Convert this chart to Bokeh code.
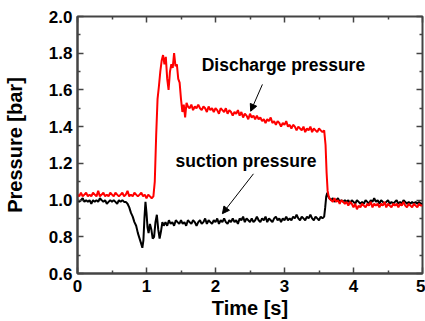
from bokeh.plotting import figure
from bokeh.models import (Range1d, LinearAxis, FixedTicker, PrintfTickFormatter,
                          Label, Arrow, NormalHead)
from bokeh.embed import file_html
from bokeh.resources import INLINE

# ---- data ----
t_discharge = [
    0.000, 0.025, 0.050, 0.075, 0.100, 0.125, 0.150, 0.175, 0.200, 0.225,
    0.250, 0.275, 0.300, 0.325, 0.350, 0.375, 0.400, 0.425, 0.450, 0.475,
    0.500, 0.525, 0.550, 0.575, 0.600, 0.625, 0.650, 0.675, 0.700, 0.725,
    0.750, 0.775, 0.800, 0.825, 0.850, 0.875, 0.900, 0.925, 0.950, 0.975,
    1.000, 1.025, 1.050, 1.075, 1.100,
    1.12, 1.14, 1.16, 1.18, 1.20, 1.22, 1.24, 1.26, 1.28, 1.30, 1.32, 1.34,
    1.36, 1.38, 1.40, 1.42, 1.44, 1.46, 1.48, 1.50, 1.52, 1.54, 1.56, 1.58,
    1.600, 1.625, 1.650, 1.675, 1.700, 1.725, 1.750, 1.775, 1.800, 1.825,
    1.850, 1.875, 1.900, 1.925, 1.950, 1.975, 2.000, 2.025, 2.050, 2.075,
    2.100, 2.125, 2.150, 2.175, 2.200, 2.225, 2.250, 2.275, 2.300, 2.325,
    2.350, 2.375, 2.400, 2.425, 2.450, 2.475, 2.500, 2.525, 2.550, 2.575,
    2.600, 2.625, 2.650, 2.675, 2.700, 2.725, 2.750, 2.775, 2.800, 2.825,
    2.850, 2.875, 2.900, 2.925, 2.950, 2.975, 3.000, 3.025, 3.050, 3.075,
    3.100, 3.125, 3.150, 3.175, 3.200, 3.225, 3.250, 3.275, 3.300, 3.325,
    3.350, 3.375, 3.400, 3.425, 3.450, 3.475, 3.500, 3.525, 3.550, 3.575,
    3.595, 3.610, 3.625, 3.640,
    3.650, 3.675, 3.700, 3.725, 3.750, 3.775, 3.800, 3.825, 3.850, 3.875,
    3.900, 3.925, 3.950, 3.975, 4.000, 4.025, 4.050, 4.075, 4.100, 4.125,
    4.150, 4.175, 4.200, 4.225, 4.250, 4.275, 4.300, 4.325, 4.350, 4.375,
    4.400, 4.425, 4.450, 4.475, 4.500, 4.525, 4.550, 4.575, 4.600, 4.625,
    4.650, 4.675, 4.700, 4.725, 4.750, 4.775, 4.800, 4.825, 4.850, 4.875,
    4.900, 4.925, 4.950, 4.975, 5.000]
p_discharge = [
    1.03, 1.02, 1.04, 1.02, 1.03, 1.04, 1.02, 1.03, 1.02, 1.04,
    1.03, 1.02, 1.05, 1.02, 1.03, 1.04, 1.02, 1.03, 1.02, 1.04,
    1.03, 1.02, 1.04, 1.03, 1.02, 1.03, 1.04, 1.02, 1.03, 1.05,
    1.02, 1.03, 1.02, 1.04, 1.03, 1.02, 1.03, 1.04, 1.02, 1.03,
    1.01, 1.03, 1.02, 1.01, 1.02,
    1.10, 1.35, 1.55, 1.62, 1.70, 1.76, 1.79, 1.74, 1.78, 1.66, 1.60, 1.70,
    1.74, 1.72, 1.80, 1.73, 1.74, 1.66, 1.64, 1.55, 1.48, 1.52, 1.45, 1.53,
    1.51, 1.50, 1.52, 1.49, 1.51, 1.50, 1.52, 1.50, 1.49, 1.51,
    1.50, 1.48, 1.51, 1.49, 1.50, 1.48, 1.50, 1.49, 1.47, 1.50,
    1.49, 1.48, 1.50, 1.47, 1.49, 1.48, 1.46, 1.48, 1.47, 1.49,
    1.46, 1.48, 1.45, 1.47, 1.46, 1.44, 1.47, 1.45, 1.46, 1.44,
    1.46, 1.44, 1.45, 1.43, 1.44, 1.42, 1.44, 1.43, 1.45, 1.42,
    1.43, 1.41, 1.43, 1.42, 1.40, 1.42, 1.41, 1.43, 1.40, 1.41,
    1.39, 1.41, 1.40, 1.38, 1.40, 1.39, 1.38, 1.40, 1.37, 1.39,
    1.38, 1.40, 1.37, 1.39, 1.38, 1.37, 1.39, 1.38, 1.37, 1.38,
    1.30, 1.15, 1.05, 1.02,
    1.01, 1.00, 0.99, 1.01, 0.99, 1.00, 0.98, 1.00, 0.99, 0.98,
    0.99, 0.97, 0.99, 0.98, 0.96, 0.98, 0.95, 0.97, 0.96, 0.98,
    0.97, 0.96, 0.98, 0.97, 0.99, 0.96, 0.98, 0.97, 0.98, 0.96,
    0.98, 0.97, 0.99, 0.96, 0.98, 0.97, 0.96, 0.98, 0.97, 0.98,
    0.96, 0.98, 0.97, 0.99, 0.97, 0.96, 0.98, 0.97, 0.96, 0.98,
    0.97, 0.96, 0.98, 0.97, 0.97]

t_suction = [
    0.000, 0.025, 0.050, 0.075, 0.100, 0.125, 0.150, 0.175, 0.200, 0.225,
    0.250, 0.275, 0.300, 0.325, 0.350, 0.375, 0.400, 0.425, 0.450, 0.475,
    0.500, 0.525, 0.550, 0.575, 0.600, 0.625, 0.650, 0.675, 0.700, 0.725,
    0.750, 0.775, 0.800, 0.825, 0.850, 0.875, 0.900, 0.925, 0.940, 0.955,
    0.970, 0.985, 1.000, 1.015, 1.030, 1.050, 1.070, 1.090, 1.110, 1.130,
    1.150, 1.170, 1.190, 1.210, 1.230, 1.250,
    1.275, 1.300, 1.325, 1.350, 1.375, 1.400, 1.425, 1.450, 1.475, 1.500,
    1.525, 1.550, 1.575, 1.600, 1.625, 1.650, 1.675, 1.700, 1.725, 1.750,
    1.775, 1.800, 1.825, 1.850, 1.875, 1.900, 1.925, 1.950, 1.975, 2.000,
    2.025, 2.050, 2.075, 2.100, 2.125, 2.150, 2.175, 2.200, 2.225, 2.250,
    2.275, 2.300, 2.325, 2.350, 2.375, 2.400, 2.425, 2.450, 2.475, 2.500,
    2.525, 2.550, 2.575, 2.600, 2.625, 2.650, 2.675, 2.700, 2.725, 2.750,
    2.775, 2.800, 2.825, 2.850, 2.875, 2.900, 2.925, 2.950, 2.975, 3.000,
    3.025, 3.050, 3.075, 3.100, 3.125, 3.150, 3.175, 3.200, 3.225, 3.250,
    3.275, 3.300, 3.325, 3.350, 3.375, 3.400, 3.425, 3.450, 3.475, 3.500,
    3.525, 3.550, 3.575,
    3.590, 3.605, 3.620, 3.635,
    3.650, 3.675, 3.700, 3.725, 3.750, 3.775, 3.800, 3.825, 3.850, 3.875,
    3.900, 3.925, 3.950, 3.975, 4.000, 4.025, 4.050, 4.075, 4.100, 4.125,
    4.150, 4.175, 4.200, 4.225, 4.250, 4.275, 4.300, 4.325, 4.350, 4.375,
    4.400, 4.425, 4.450, 4.475, 4.500, 4.525, 4.550, 4.575, 4.600, 4.625,
    4.650, 4.675, 4.700, 4.725, 4.750, 4.775, 4.800, 4.825, 4.850, 4.875,
    4.900, 4.925, 4.950, 4.975, 5.000]
p_suction = [
    1.00, 0.99, 1.00, 1.01, 0.99, 1.00, 0.99, 1.00, 0.98, 1.00,
    0.99, 1.00, 0.99, 1.01, 1.00, 0.99, 1.00, 0.98, 0.99, 1.00,
    0.99, 1.00, 0.99, 0.98, 1.00, 0.99, 1.00, 0.99, 0.99, 0.98,
    0.96, 0.93, 0.91, 0.88, 0.86, 0.82, 0.79, 0.76, 0.74, 0.78,
    0.90, 0.99, 0.93, 0.85, 0.82, 0.87, 0.84, 0.79, 0.80, 0.88,
    0.92, 0.84, 0.79, 0.83, 0.88, 0.86,
    0.88, 0.86, 0.89, 0.87, 0.88, 0.86, 0.89, 0.88, 0.87, 0.89,
    0.87, 0.88, 0.86, 0.89, 0.88, 0.87, 0.89, 0.88, 0.86, 0.88,
    0.89, 0.87, 0.88, 0.90, 0.87, 0.89, 0.88, 0.87, 0.89, 0.88,
    0.90, 0.87, 0.89, 0.88, 0.90, 0.88, 0.87, 0.89, 0.88, 0.90,
    0.88, 0.89, 0.87, 0.90, 0.89, 0.91, 0.88, 0.90, 0.89, 0.88,
    0.90, 0.88, 0.89, 0.91, 0.89, 0.88, 0.90, 0.89, 0.91, 0.88,
    0.90, 0.89, 0.88, 0.90, 0.91, 0.89, 0.90, 0.88, 0.90, 0.89,
    0.91, 0.89, 0.90, 0.89, 0.91, 0.90, 0.92, 0.90, 0.89, 0.91,
    0.90, 0.89, 0.91, 0.90, 0.92, 0.90, 0.89, 0.91, 0.90, 0.89,
    0.91, 0.90, 0.91,
    0.96, 1.02, 1.04, 1.02,
    1.01, 1.00, 1.01, 0.99, 1.00, 1.01, 0.99, 1.00, 0.99, 1.00,
    0.99, 1.00, 0.98, 1.00, 0.99, 0.98, 1.00, 0.99, 0.98, 0.99,
    0.98, 1.00, 0.99, 0.98, 1.00, 0.99, 1.01, 0.99, 1.00, 0.98,
    1.00, 0.99, 0.98, 0.99, 1.00, 0.98, 0.99, 0.98, 0.99, 1.00,
    0.98, 0.99, 0.98, 1.00, 0.99, 0.98, 0.99, 0.98, 0.99, 0.98,
    0.99, 0.98, 0.99, 0.98, 0.98]

x_major_ticks = [0, 1, 2, 3, 4, 5]
x_minor_ticks = [0.5, 1.5, 2.5, 3.5, 4.5]
y_major_ticks = [0.6, 0.8, 1.0, 1.2, 1.4, 1.6, 1.8, 2.0]
y_minor_ticks = [0.7, 0.9, 1.1, 1.3, 1.5, 1.7, 1.9]

x_label = "Time [s]"
y_label = "Pressure [bar]"
discharge_text = "Discharge pressure"
suction_text = "suction pressure"

FONT = "Liberation Sans"
AXIS_COLOR = "#444444"

p = figure(width=425, height=321, output_backend="svg", toolbar_location=None,
           x_range=Range1d(0, 5), y_range=Range1d(0.6, 2.0),
           min_border_left=77, min_border_right=3, min_border_top=16, min_border_bottom=47,
           x_axis_label=x_label, y_axis_label=y_label)
p.background_fill_color = "white"
p.border_fill_color = "white"
p.outline_line_color = AXIS_COLOR
p.outline_line_width = 2
p.grid.visible = False

p.xaxis.ticker = FixedTicker(ticks=x_major_ticks, minor_ticks=x_minor_ticks)
p.yaxis.ticker = FixedTicker(ticks=y_major_ticks, minor_ticks=y_minor_ticks)
p.yaxis.formatter = PrintfTickFormatter(format="%.1f")
p.xaxis.formatter = PrintfTickFormatter(format="%d")

for ax in (p.xaxis[0], p.yaxis[0]):
    ax.major_tick_in = 6
    ax.major_tick_out = 0
    ax.minor_tick_in = 3
    ax.minor_tick_out = 0
    ax.axis_line_color = AXIS_COLOR
    ax.axis_line_width = 2
    ax.major_tick_line_color = AXIS_COLOR
    ax.minor_tick_line_color = AXIS_COLOR
    ax.major_tick_line_width = 1.5
    ax.minor_tick_line_width = 1.5
    ax.major_label_text_font = FONT
    ax.major_label_text_font_style = "bold"
    ax.major_label_text_font_size = "17px"
    ax.major_label_text_color = "black"
    ax.axis_label_text_font = FONT
    ax.axis_label_text_font_style = "bold"
    ax.axis_label_text_font_size = "20px"
    ax.axis_label_text_color = "black"

p.yaxis.major_label_standoff = 5
p.yaxis.axis_label_standoff = 20
p.xaxis.major_label_standoff = 6
p.xaxis.axis_label_standoff = 2

# mirrored tick marks on the top and right edges (ticks only, no labels)
for side, ticks, length in (("above", x_major_ticks, 6), ("above", x_minor_ticks, 3),
                            ("right", y_major_ticks, 6), ("right", y_minor_ticks, 3)):
    ax = LinearAxis(ticker=FixedTicker(ticks=[], minor_ticks=ticks),
                    major_label_standoff=0, minor_tick_in=length, minor_tick_out=0,
                    major_tick_in=0, major_tick_out=0,
                    axis_line_color=None,
                    minor_tick_line_color=AXIS_COLOR, minor_tick_line_width=1.5)
    p.add_layout(ax, side)

p.line(t_suction, p_suction, line_color="black", line_width=2)
p.line(t_discharge, p_discharge, line_color="#ff0000", line_width=2)

p.add_layout(Label(x=1.80, y=1.68, text=discharge_text, text_font=FONT,
                   text_font_style="bold", text_font_size="17.5px", text_color="black"))
p.add_layout(Label(x=1.42, y=1.158, text=suction_text, text_font=FONT,
                   text_font_style="bold", text_font_size="17.5px", text_color="black"))

p.add_layout(Arrow(end=NormalHead(size=7, fill_color="black", line_color="black"),
                   x_start=2.68, y_start=1.63, x_end=2.51, y_end=1.484,
                   line_color="black", line_width=1))
p.add_layout(Arrow(end=NormalHead(size=7, fill_color="black", line_color="black"),
                   x_start=2.55, y_start=1.143, x_end=2.10, y_end=0.926,
                   line_color="black", line_width=1))

open("out.html", "w").write(file_html(p, INLINE))
